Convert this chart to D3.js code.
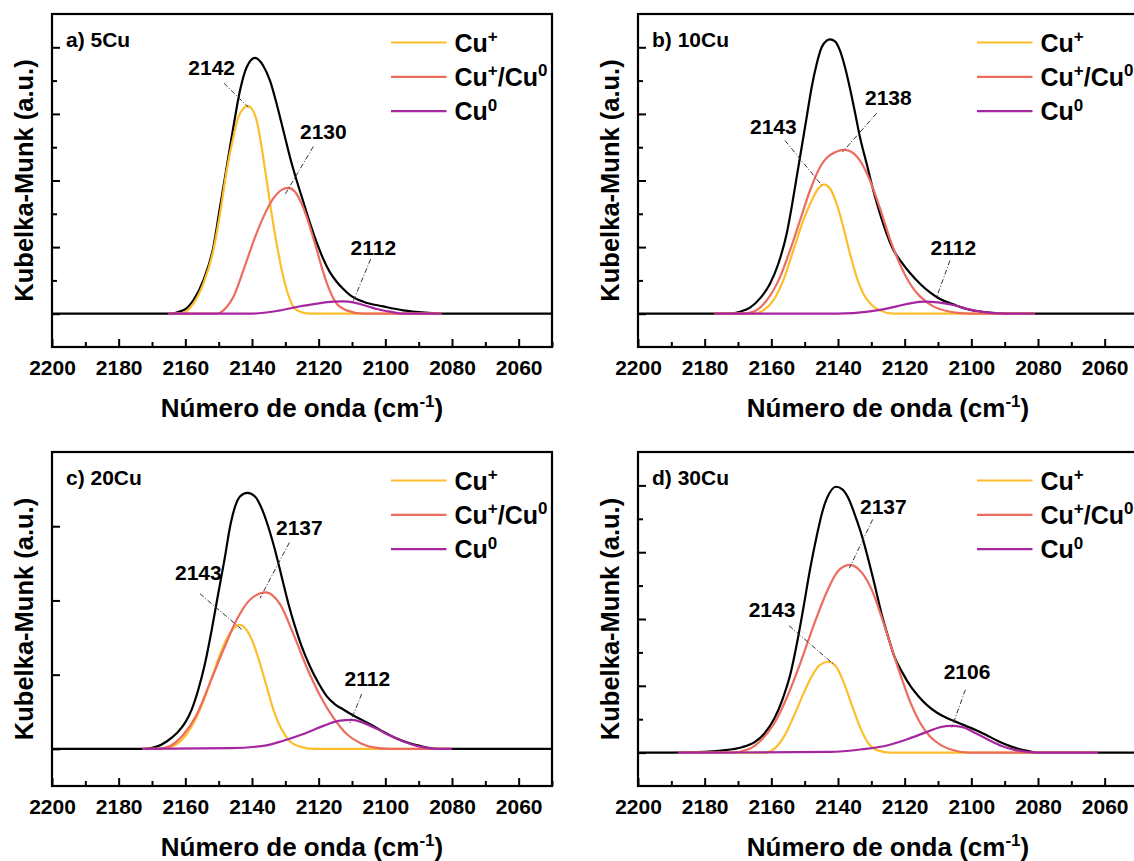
<!DOCTYPE html>
<html><head><meta charset="utf-8">
<script src="https://cdn.jsdelivr.net/npm/d3@7"></script>
<style>
body{margin:0;background:#fff;}
svg text{font-family:"Liberation Sans",Arial,sans-serif;font-weight:bold;fill:#000;}
</style>
</head><body>
<svg id="chart" width="1134" height="861"></svg>
<script>
// ---------------- DATA (wavenumber cm-1, Kubelka-Munk a.u.) ----------------
const panelLabels = ["a) 5Cu", "b) 10Cu", "c) 20Cu", "d) 30Cu"];
const seriesNames = [[["Cu",0],["+",1]], [["Cu",0],["+",1],["/Cu",0],["0",1]], [["Cu",0],["0",1]]];
const xMajorTicks = [2200, 2180, 2160, 2140, 2120, 2100, 2080, 2060];
const xMinorTicks = [2190, 2170, 2150, 2130, 2110, 2090, 2070, 2050];
const xDomain = [2200, 2050];
const yDomains = [[-0.5, 4.5], [-0.5, 4.5], [-0.5, 4.0], [-0.5, 4.5]];
const yMajorTicks = [[0,1,2,3,4], [0,1,2,3,4], [0,1,2,3], [0,1,2,3,4]];
const yMinorTicks = [[0.5,1.5,2.5,3.5], [0.5,1.5,2.5,3.5], [], [0.5,1.5,2.5,3.5]];

// panel a) 5Cu
const aTotal = [[2200,0],[2165,0],[2160.6,0.05],[2157.6,0.2],[2154.6,0.5],[2151.6,1.0],[2149.6,1.6],[2147.6,2.2],[2145.6,2.8],[2143.6,3.35],[2141.6,3.7],[2139.1,3.84],[2136.6,3.72],[2134.6,3.5],[2132.6,3.15],[2130.6,2.75],[2128.6,2.35],[2126.6,2.0],[2124.6,1.68],[2122.6,1.36],[2120.6,1.07],[2118.6,0.82],[2116.6,0.62],[2114.6,0.48],[2112.6,0.37],[2110.6,0.28],[2106.6,0.18],[2100.6,0.11],[2094.6,0.05],[2088,0.015],[2083,0],[2050,0]];
const aCuPlus = [[2165,0],[2161.6,0.0],[2157.6,0.15],[2154.6,0.45],[2151.6,0.95],[2149.6,1.5],[2147.6,2.15],[2145.6,2.65],[2144.1,2.95],[2142.6,3.08],[2141.3,3.12],[2140.1,3.08],[2138.6,2.9],[2137.1,2.5],[2135.6,2.0],[2134.1,1.5],[2132.6,1.05],[2131.1,0.66],[2129.6,0.36],[2128.1,0.15],[2126.1,0.04],[2122.6,0],[2083,0]];
const aCuMix = [[2165,0],[2150.6,0],[2147.6,0.1],[2145.6,0.25],[2142.6,0.65],[2139.6,1.08],[2136.6,1.45],[2133.6,1.73],[2131.1,1.86],[2129.1,1.89],[2127.1,1.83],[2125.1,1.65],[2123.1,1.38],[2121.1,1.05],[2119.1,0.7],[2117.1,0.4],[2114.6,0.15],[2111.6,0.05],[2106.6,0],[2083,0]];
const aCu0 = [[2165,0],[2140.6,0],[2132.6,0.04],[2126.6,0.1],[2120.6,0.15],[2115.6,0.18],[2112.6,0.185],[2109.6,0.17],[2106.6,0.13],[2102.6,0.07],[2098.6,0.03],[2094.6,0],[2083,0]];
const aNotes = [["2142",2152.1,3.70,2148.4,3.46,2141.1,3.10],["2130",2118.6,2.73,2121.6,2.51,2130.1,1.79],["2112",2103.6,1.0,2104.4,0.82,2109.9,0.16]];

// panel b) 10Cu
const bTotal = [[2200,0],[2175,0],[2172.4,0],[2169.4,0.03],[2166.4,0.09],[2163.4,0.23],[2160.4,0.45],[2157.9,0.75],[2155.4,1.2],[2153.9,1.6],[2152.4,2.05],[2150.9,2.5],[2149.4,2.95],[2147.9,3.4],[2146.4,3.75],[2144.9,4.0],[2143.4,4.1],[2142.4,4.12],[2140.9,4.09],[2139.4,3.95],[2137.9,3.7],[2136.4,3.38],[2134.9,3.02],[2133.4,2.65],[2131.4,2.25],[2129.4,1.85],[2127.4,1.5],[2125.4,1.2],[2123.4,0.96],[2120.9,0.77],[2118.4,0.61],[2115.4,0.45],[2112.4,0.32],[2109.4,0.22],[2105.4,0.14],[2101.4,0.07],[2095.4,0.02],[2088.4,0],[2050,0]];
const bCuPlus = [[2177,0],[2165.4,0],[2162.4,0.05],[2159.4,0.2],[2156.4,0.5],[2153.4,0.95],[2150.4,1.4],[2147.9,1.7],[2145.9,1.88],[2144.1,1.94],[2142.4,1.88],[2140.4,1.65],[2138.4,1.3],[2136.4,0.9],[2134.4,0.55],[2132.4,0.3],[2129.9,0.13],[2127.4,0.05],[2123.4,0],[2081,0]];
const bCuMix = [[2177,0],[2169.4,0],[2165.4,0.03],[2161.4,0.2],[2157.4,0.55],[2154.4,0.95],[2151.4,1.4],[2148.4,1.85],[2145.4,2.2],[2142.4,2.38],[2137.9,2.46],[2133.4,2.3],[2130.4,2.0],[2127.4,1.58],[2124.4,1.12],[2121.4,0.74],[2118.4,0.45],[2115.4,0.26],[2111.4,0.11],[2107.4,0.04],[2103.4,0.01],[2097.4,0],[2081,0]];
const bCu0 = [[2177,0],[2145,0],[2135.4,0.01],[2128.4,0.05],[2122.4,0.11],[2118,0.16],[2113.9,0.18],[2110,0.17],[2105.4,0.13],[2099.4,0.05],[2093.4,0.01],[2085,0],[2081,0]];
const bNotes = [["2143",2159.4,2.81,2155.9,2.60,2144.9,1.93],["2138",2124.9,3.24,2128.4,3.01,2138.6,2.43],["2112",2105.4,1.0,2106.4,0.80,2110.4,0.25]];

// panel c) 20Cu
const cTotal = [[2200,0],[2172.6,0],[2168.6,0.03],[2165.6,0.1],[2162.6,0.21],[2160.1,0.35],[2158.1,0.53],[2156.1,0.8],[2154.1,1.15],[2152.1,1.6],[2150.1,2.1],[2148.1,2.59],[2146.6,2.99],[2145.1,3.26],[2143.6,3.4],[2141.4,3.45],[2139.1,3.4],[2137.1,3.24],[2135.1,2.99],[2133.1,2.68],[2131.1,2.32],[2129.1,1.96],[2127.1,1.65],[2125.1,1.38],[2122.6,1.11],[2120.1,0.89],[2117.6,0.71],[2115.1,0.6],[2112.6,0.53],[2109.6,0.45],[2106.6,0.38],[2103.6,0.31],[2100.6,0.23],[2097.6,0.16],[2093.6,0.09],[2089.6,0.04],[2084,0.0],[2050,0]];
const cCuPlus = [[2173,0],[2167.6,0],[2163.6,0.04],[2159.6,0.2],[2156.6,0.43],[2154.1,0.7],[2151.6,1.02],[2149.1,1.33],[2146.6,1.56],[2143.8,1.67],[2141.6,1.6],[2139.6,1.42],[2137.6,1.15],[2135.6,0.84],[2133.6,0.53],[2131.1,0.26],[2128.6,0.1],[2125.6,0.03],[2121.6,0],[2080,0]];
const cCuMix = [[2173,0],[2168.6,0],[2164.6,0.04],[2160.6,0.19],[2156.6,0.46],[2152.6,0.89],[2148.6,1.33],[2144.6,1.74],[2140.6,2.01],[2135.8,2.11],[2131.6,1.95],[2127.6,1.55],[2123.6,1.1],[2119.6,0.72],[2115.6,0.42],[2111.6,0.2],[2107.6,0.08],[2103.6,0.02],[2098.6,0],[2080,0]];
const cCu0 = [[2173,0],[2146.6,0.01],[2136.6,0.04],[2130.6,0.11],[2124.6,0.2],[2118.6,0.31],[2113.6,0.38],[2110.1,0.39],[2106.6,0.35],[2102.6,0.27],[2098.6,0.18],[2094.6,0.1],[2089.6,0.03],[2084,0],[2080,0]];
const cNotes = [["2143",2156.1,2.37,2155.6,2.09,2143.1,1.61],["2137",2125.8,2.98,2128.8,2.78,2137.6,2.03],["2112",2105.4,0.95,2107.1,0.74,2110.6,0.35]];

// panel d) 30Cu
const dTotal = [[2200,0],[2190,0],[2180,0.01],[2175,0.03],[2168.8,0.08],[2164.9,0.16],[2162.0,0.29],[2159.1,0.51],[2156.7,0.79],[2154.2,1.19],[2152.3,1.64],[2150.3,2.19],[2148.4,2.74],[2146.4,3.24],[2144.5,3.64],[2142.5,3.89],[2140.6,3.98],[2138.7,3.94],[2136.7,3.79],[2134.8,3.54],[2132.8,3.24],[2130.9,2.89],[2128.9,2.49],[2127.0,2.09],[2125.0,1.74],[2123.1,1.44],[2120.6,1.19],[2118.2,0.99],[2115.8,0.84],[2113.3,0.71],[2110.4,0.6],[2107.5,0.52],[2104.6,0.46],[2101.7,0.4],[2098.7,0.34],[2095.8,0.27],[2091.9,0.17],[2088.0,0.09],[2084,0.035],[2080,0],[2050,0]];
const dCuPlus = [[2188,0],[2162,0],[2159.1,0.06],[2156.2,0.24],[2153.3,0.54],[2150.3,0.89],[2147.9,1.14],[2145.5,1.31],[2143.0,1.36],[2140.6,1.29],[2138.2,1.04],[2135.7,0.69],[2133.3,0.37],[2130.9,0.14],[2127.9,0.03],[2124.1,0],[2062,0]];
const dCuMix = [[2188,0],[2171.8,0],[2166.9,0.05],[2163.0,0.19],[2159.1,0.44],[2155.2,0.84],[2151.3,1.34],[2147.4,1.89],[2143.5,2.39],[2140.1,2.71],[2136.5,2.81],[2132.8,2.69],[2129.9,2.44],[2127.0,2.04],[2124.1,1.59],[2121.1,1.14],[2118.2,0.74],[2115.3,0.44],[2112.4,0.24],[2109.4,0.12],[2105.6,0.04],[2100.7,0],[2062,0]];
const dCu0 = [[2188,0],[2142.5,0.01],[2132.8,0.05],[2125,0.11],[2119.2,0.2],[2113.3,0.31],[2109.4,0.38],[2106,0.40],[2102.6,0.38],[2098.7,0.29],[2094.8,0.19],[2090.9,0.1],[2087,0.04],[2080,0.0],[2062,0]];
const dNotes = [["2143",2159.8,2.14,2154.7,1.90,2141.0,1.31],["2137",2126.4,3.68,2129.6,3.49,2136.6,2.76],["2106",2101.3,1.21,2101.8,0.94,2105.9,0.37]];

// ---------------- DRAWING ----------------
const panels = [
  {total:aTotal, comps:[aCuPlus,aCuMix,aCu0], notes:aNotes},
  {total:bTotal, comps:[bCuPlus,bCuMix,bCu0], notes:bNotes},
  {total:cTotal, comps:[cCuPlus,cCuMix,cCu0], notes:cNotes},
  {total:dTotal, comps:[dCuPlus,dCuMix,dCu0], notes:dNotes}
];
const compColors = ["#FDBE2C", "#EC6C5E", "#A6269F"];
const W = 500;
const origins = [[52,14,333],[638,14,333],[52,452,334],[638,452,334]];

const svg = d3.select("#chart");

function supText(sel, parts, size, supSize, shift){
  let acc = 0;
  parts.forEach(([t,s])=>{
    const ts = sel.append("tspan").text(t);
    if(s){ ts.attr("font-size", supSize).attr("dy", -shift - acc); acc = -shift; }
    else { ts.attr("font-size", size).attr("dy", -acc); acc = 0; }
  });
}

panels.forEach((p, i) => {
  const [ox, oy, H] = origins[i];
  const g = svg.append("g").attr("transform", `translate(${ox},${oy})`);
  const x = d3.scaleLinear().domain(xDomain).range([0, W]);
  const y = d3.scaleLinear().domain(yDomains[i]).range([H, 0]);

  const line = d3.line().x(d => x(d[0])).y(d => y(d[1])).curve(d3.curveMonotoneX);

  const clipId = "clip" + i;
  g.append("clipPath").attr("id", clipId).append("rect").attr("width", W).attr("height", H);
  const plot = g.append("g").attr("clip-path", `url(#${clipId})`);

  plot.append("path").datum(p.total).attr("d", line)
    .attr("fill","none").attr("stroke","#000").attr("stroke-width",2.2).attr("stroke-linejoin","round");
  p.comps.forEach((c, k) => {
    plot.append("path").datum(c).attr("d", line)
      .attr("fill","none").attr("stroke", compColors[k]).attr("stroke-width",2.2).attr("stroke-linejoin","round");
  });

  // annotations
  p.notes.forEach(n => {
    g.append("line")
      .attr("x1", x(n[3])).attr("y1", y(n[4])).attr("x2", x(n[5])).attr("y2", y(n[6]))
      .attr("stroke","#333").attr("stroke-width",1).attr("stroke-dasharray","5,2,1,2");
    g.append("text").attr("x", x(n[1])).attr("y", y(n[2]) + 7.5)
      .attr("text-anchor","middle").attr("font-size", 21).text(n[0]);
  });

  // axes (inward ticks)
  const xMaj = d3.axisBottom(x).tickValues(xMajorTicks).tickSizeInner(-8).tickSizeOuter(0).tickPadding(13.5).tickFormat(d3.format("d"));
  const xMin = d3.axisBottom(x).tickValues(xMinorTicks).tickSizeInner(-5).tickSizeOuter(0).tickFormat("");
  const ax = g.append("g").attr("transform", `translate(0,${H})`).call(xMaj);
  const axm = g.append("g").attr("transform", `translate(0,${H})`).call(xMin);
  const yMaj = d3.axisLeft(y).tickValues(yMajorTicks[i]).tickSizeInner(-8).tickSizeOuter(0).tickFormat("");
  const yMin = d3.axisLeft(y).tickValues(yMinorTicks[i]).tickSizeInner(-5).tickSizeOuter(0).tickFormat("");
  const ay = g.append("g").call(yMaj);
  const aym = g.append("g").call(yMin);
  [ax, axm, ay, aym].forEach(a => {
    a.select(".domain").remove();
    a.selectAll("line").attr("stroke","#000").attr("stroke-width",2);
  });
  ax.selectAll("text").attr("font-size",21).attr("font-family",null).attr("fill","#000");

  // frame
  g.append("rect").attr("width", W).attr("height", H)
    .attr("fill","none").attr("stroke","#000").attr("stroke-width",2.2);

  // panel label
  g.append("text").attr("x", 14).attr("y", 32.5).attr("font-size", 21).text(panelLabels[i]);

  // legend
  seriesNames.forEach((parts, k) => {
    const ly = 28.5 + k * 34.3;
    g.append("line").attr("x1", 339).attr("x2", 394.5).attr("y1", ly).attr("y2", ly)
      .attr("stroke", compColors[k]).attr("stroke-width", 2.2);
    const t = g.append("text").attr("x", 402.5).attr("y", ly + 9);
    supText(t, parts, 25, 17, 9.5);
  });

  // axis titles
  const xt = g.append("text").attr("x", W/2).attr("y", H + 70).attr("text-anchor","middle");
  supText(xt, [["Número de onda (cm",0],["-1",1],[")",0]], 26, 17, 10);
  g.append("text").attr("transform", `translate(-28,${H/2}) rotate(-90)`)
    .attr("text-anchor","middle").attr("dy", 9).attr("font-size", 25.5).text("Kubelka-Munk (a.u.)");
});
</script>
</body></html>
